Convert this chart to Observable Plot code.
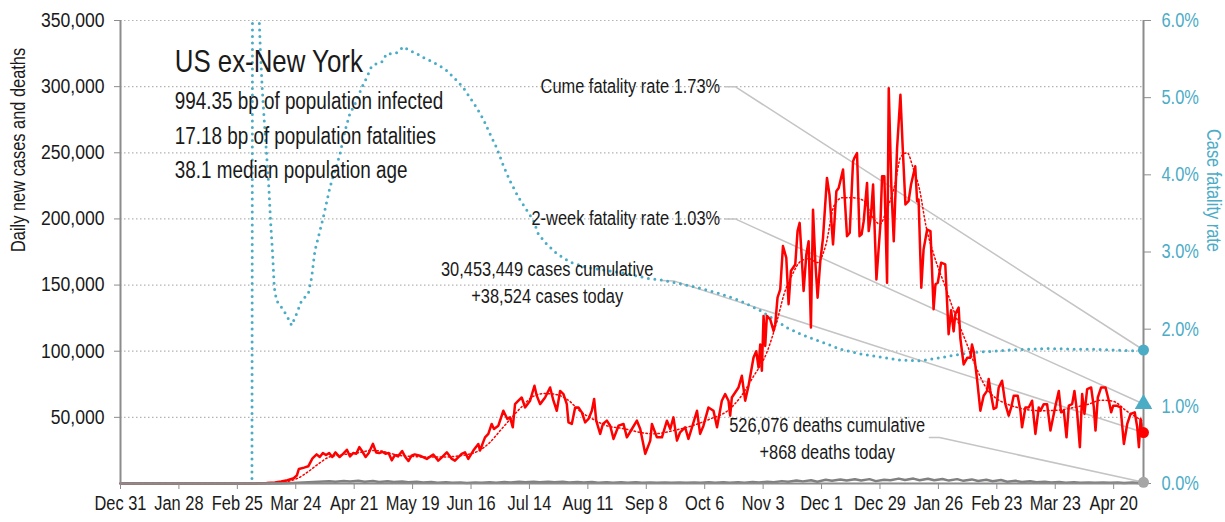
<!DOCTYPE html>
<html><head><meta charset="utf-8">
<script src="https://cdn.jsdelivr.net/npm/d3@7"></script>
<script src="https://cdn.jsdelivr.net/npm/@observablehq/plot@0.6"></script>
<style>
html,body{margin:0;padding:0;background:#fff;}
#chart svg{display:block;}
</style></head><body><div id="chart"></div>
<script>
// ---------- data ----------
const startDate = "2019-12-31";           // day 0 of the series
const xTickDates = ["2019-12-31","2020-01-28","2020-02-25","2020-03-24","2020-04-21","2020-05-19","2020-06-16","2020-07-14","2020-08-11","2020-09-08","2020-10-06","2020-11-03","2020-12-01","2020-12-29","2021-01-26","2021-02-23","2021-03-23","2021-04-20"];
const leftTicks = [50000,100000,150000,200000,250000,300000,350000];
const rightTicks = [0,1,2,3,4,5,6];         // percent

const title = "US ex-New York";
const subtitleLines = ["994.35 bp of population infected","17.18 bp of population fatalities","38.1 median population age"];
const leftAxisTitle = "Daily new cases and deaths";
const rightAxisTitle = "Case fatality rate";

const cumeCFR = 1.73, twoWeekCFR = 1.03;
const casesCumulative = 30453449, casesToday = 38524;
const deathsCumulative = 526076, deathsToday = 868;

// daily new cases (days since start, value)
const caseDays = [0,60,66,70,74,77,80,83,84.5,85.5,88,90,91,92,94,95.5,97,98.5,100,101.5,103,105,107,108.5,110,111.5,113,114.5,116,117.5,119,121,122.5,124,125.5,127,128.5,130,131.5,133,135,136.5,138,139.5,141,143.5,146.8,149.9,152.3,154,156.4,158.8,160.3,163.5,165.1,166.7,169.1,171.5,172.3,174.7,176.3,177.9,179,181.1,183.5,185.4,186.7,188,189.1,190.7,192.3,193.9,196.3,198.4,199.5,201.1,203.5,205.9,207.5,209.1,210.7,212.3,213.9,214.7,216.3,217.9,219.5,221.1,222.7,224.3,225.9,227,228,229.9,231.2,233.1,234.7,236.3,238.7,241.1,242.7,245.1,247.5,249.1,251.5,253.9,254.7,257.1,259.5,261.9,263.5,265,266.7,268.2,270.6,272.2,273.9,276.3,277.8,279.4,281.8,284.2,285.9,288.2,289.8,291.4,292.2,293,296.2,297.8,299.4,301,303.4,304.7,305.8,306.6,307.4,308.2,309,309.8,311.4,313,313.8,314.9,316.2,317.5,319.1,320.2,321.3,323.4,324.5,325.5,326.6,327.4,328.7,329.8,330.9,331.9,333,334.1,335.4,336.7,338.6,339.8,341.5,343.1,344.2,346.3,348.2,349.5,351.1,351.7,353,354.2,355.2,356.2,357.8,358.6,359.7,360.7,362.3,364.2,365,366.1,367.4,368.2,369.5,370.6,372.2,373.8,374.9,376.2,377.7,378.9,380.9,381.8,382.5,383.8,384.9,386.6,388.2,389.7,390.6,391.7,393.3,395.3,396.9,398.1,399.3,400.1,401.7,402.5,404.1,405.8,407.3,408.1,408.9,410.6,412.1,413.7,415.3,416.1,416.9,418.5,419.8,420.9,422.5,424.1,425.7,426.9,428.1,430,431.3,432.1,433.7,435.3,436.9,438.5,440.1,440.9,442.5,444.1,445.7,448.1,449.7,450.8,452.1,453.4,454.5,456.1,457.2,458.5,459.8,460.9,462,463.3,465.2,466.5,467.3,468.4,470,472.1,473.7,474.8,475.8,477.4,479.3,480.9,482.5,484.1,486.1,487.3,488.1,488.9,489.7,490.3];
const cases = [0,0,100,300,800,1500,2500,4000,6000,11000,12000,13000,16000,19000,22000,20000,23000,21500,23000,20000,23500,20000,23000,25500,20500,23000,22500,27500,24000,20000,23000,30000,23500,23000,24000,22500,23000,17500,21500,20500,24500,20000,17000,21000,22000,21000,18600,21900,17300,19800,23600,18600,17300,22400,23600,18600,24900,29900,24900,34900,37500,45000,41200,43700,55000,48800,50000,42500,60000,62600,65000,57500,62600,73900,66400,60000,65000,72600,62600,55000,70000,67600,60000,46200,45000,57500,57500,53800,46200,48800,55000,63900,47500,37500,45000,47500,43700,33700,43700,45000,34900,41200,47500,41200,22400,32400,45000,34900,34900,47500,41200,50000,32400,38700,42500,33700,42500,55000,37500,43700,57500,55000,42500,62600,67600,62600,51300,65000,72600,81400,62600,73900,95200,100000,87700,105000,85200,126700,104000,126700,124000,115400,120400,140500,146800,179500,170600,135500,160600,165600,190800,197000,168000,145500,173200,183200,117900,207000,168000,140500,168000,185700,231000,218400,180700,221000,223400,237300,187000,189500,243500,246000,249800,187000,188300,198300,227200,190800,203300,226000,154300,195800,232200,232200,151800,298800,222200,183200,253600,293800,253600,210900,213400,226000,239800,213400,214700,148000,177000,192000,190800,131700,150600,151800,166900,165600,112900,131000,115000,128000,133000,110000,90000,95000,95000,105000,100000,77700,55000,66400,70000,79000,70000,56300,57500,72600,77700,60000,51300,57500,66400,66400,55000,42500,57500,57500,62600,37500,57500,55000,60000,60000,40000,58800,70000,53800,55000,34900,58800,60000,70000,53800,27400,67600,52600,71400,72600,57500,40000,65000,72600,72600,62600,53800,58800,58800,57500,29900,45000,52600,53800,42500,27400,48800,42500,38524];

// 7-day average of cases (dotted red)
const avgDays = [0,70,75,80,85,90,95,100,105,110,115,120,125,130,135,140,145,150,155,160,165,172,177,182,187,192,198,203,208,215,220,226,233,241,249,255,265,274,283,291,297,303,310,315,318,322,326,330,334,338,342,346,351,356,361,364,367,371,374,377,380,383,386,390,395,400,405,410,415,420,425,431,441,450,457,464,470,476,482,487,490.3];
const casesAvg = [0,0,500,1500,4000,9000,15000,20000,21500,22500,23500,25000,24500,22500,21000,20500,20000,20000,20000,20500,21500,25000,31000,40000,49000,57500,66000,68000,67500,62500,55000,49000,43700,41500,38700,37500,40000,43700,49000,55000,65000,80000,100000,125000,143000,158000,168000,170000,167000,180000,210000,216000,216000,214000,200000,196000,206000,225000,247000,250000,238000,222000,195000,172000,150000,128000,108000,88000,72000,64000,60000,57000,55000,55500,57500,60000,63000,62000,55000,50000,47000];

// daily deaths (grey)
const deathDays = [0,60,75,80,85,90,95,100,103,107,110,114,117,121,124,128,131,135,138,142,145,149,152,156,159,163,166,170,173,177,180,184,187,191,194,198,201,205,208,212,215,219,222,226,229,233,236,240,243,247,250,254,257,261,264,268,271,275,278,282,285,289,292,296,299,303,306,310,313,317,320,324,327,331,334,338,341,345,348,352,355,359,362,366,369,373,376,380,383,387,390,394,397,401,404,408,411,415,418,422,425,429,432,436,439,443,446,450,453,457,460,464,467,471,474,478,481,485,488,490.3];
const deaths = [0,0,50,200,500,900,1400,1700,1300,1900,1500,2000,1300,1900,1200,1700,1100,1500,900,1300,700,1100,600,900,500,800,400,700,500,900,600,1100,800,1300,900,1400,1000,1400,900,1300,800,1200,700,1100,600,1000,500,900,500,900,500,800,500,800,500,800,500,850,550,900,550,950,600,1000,650,1100,800,1400,1000,1800,1300,2200,1600,2500,1300,2800,2000,3100,2200,3200,2300,3300,1800,2900,2500,3700,2600,3700,2400,3600,2400,3400,2200,3300,2000,3100,1900,2800,1700,2600,1300,2000,1200,1700,900,1400,700,1100,600,900,550,850,500,800,500,800,450,750,400,868];

// case fatality rate, percent (teal dotted, right axis); values above 6% run off the top
const cfrDays = [0,63,63.5,65.4,66.5,67.1,67.9,68.9,70,71.1,71.9,72.9,73.7,74.8,77.2,79.6,82,84.4,86.8,90,91.6,93.2,94.8,97.2,100.4,102.8,105.2,107.6,109.9,112.4,115.6,118,120.4,122.8,125.2,127.6,130.7,133.1,135.5,138.8,142,145.1,148.3,153.1,156.4,161.2,164.3,167.5,170.7,173.9,177.1,180.3,183.5,186.7,190.7,197.9,200.3,204.3,209.1,215.5,223.5,233.1,242.7,252.3,258.7,268.3,279.4,287.4,297,306.6,313,319.4,325.8,332.2,338.6,345,354.6,364.2,373.8,383.4,393,399.3,408.9,416.9,424.9,434.5,444.1,456.9,466.5,476.1,484.1,490.3];
const cfr = [0,0,12,12,6.0,5.57,5.13,4.7,4.27,3.84,3.41,2.98,2.54,2.37,2.28,2.18,2.05,2.2,2.37,2.46,2.67,3.02,3.19,3.45,3.84,4.05,4.27,4.57,4.79,4.92,5.13,5.26,5.41,5.44,5.46,5.57,5.57,5.59,5.66,5.61,5.57,5.52,5.48,5.41,5.35,5.22,5.13,5.0,4.87,4.72,4.53,4.35,4.12,3.92,3.71,3.41,3.23,3.1,2.98,2.87,2.8,2.76,2.72,2.66,2.64,2.59,2.52,2.46,2.37,2.24,2.13,2.02,1.94,1.87,1.81,1.74,1.68,1.64,1.6,1.59,1.63,1.66,1.7,1.71,1.73,1.74,1.75,1.74,1.74,1.73,1.72,1.73];

// ---------- build ----------
const DAY = 864e5;
const t0 = Date.parse(startDate);
const toDate = d => new Date(t0 + d * DAY);
const endDay = caseDays[caseDays.length - 1];
const yMax = 350000;
const k = yMax / rightTicks[rightTicks.length - 1];   // 1% on the right axis in left-axis units

const caseRows = caseDays.map((d, i) => ({date: toDate(d), v: cases[i]}));
const avgRows = avgDays.map((d, i) => ({date: toDate(d), v: casesAvg[i]}));
const deathRows = deathDays.map((d, i) => ({date: toDate(d), v: deaths[i]}));
const cfrRows = cfrDays.map((d, i) => ({date: toDate(d), v: cfr[i] * k}));

const fmt = d3.format(",");
const leaders = [
  {id: "cume", pts: [[289.8, 300000], [294.6, 300000], [endDay, cumeCFR * k]]},
  {id: "two", pts: [[289.8, 200000], [294.6, 200000], [endDay, twoWeekCFR * k]]},
  {id: "cases", pts: [[259.1, 153500], [265.5, 153000], [endDay, casesToday]]},
  {id: "deaths", pts: [[387.7, 34700], [392.5, 34700], [endDay, deathsToday]]}
];
const leaderRows = leaders.flatMap(l => l.pts.map(([d, v]) => ({id: l.id, date: toDate(d), v})));

const font = '"Liberation Sans",Arimo,Arial,sans-serif';
const teal = "#4BACC6", axisGrey = "#8c8c8c", ink = "#1a1a1a";

const rateNotes = [
  {date: toDate(287.4), v: 300000, text: `Cume fatality rate ${cumeCFR.toFixed(2)}%`},
  {date: toDate(287.4), v: 200000, text: `2-week fatality rate ${twoWeekCFR.toFixed(2)}%`}
];
const countNotes = [
  {date: toDate(204.5), v: 162000, text: `${fmt(casesCumulative)} cases cumulative`},
  {date: toDate(204.5), v: 141500, text: `+${fmt(casesToday)} cases today`},
  {date: toDate(338.7), v: 43700, text: `${fmt(deathsCumulative)} deaths cumulative`},
  {date: toDate(338.7), v: 23400, text: `+${fmt(deathsToday)} deaths today`}
];
const headRows = [{date: toDate(26), v: 319000, text: title, size: 31.5}]
  .concat(subtitleLines.map((t, i) => ({date: toDate(26), v: [289000, 262500, 236500][i], text: t, size: 23})));

const plot = Plot.plot({
  width: 1225, height: 522,
  marginLeft: 120, marginRight: 82, marginTop: 20, marginBottom: 39,
  style: {fontFamily: font, fontSize: "20px", color: ink, background: "#fff", overflow: "visible"},
  x: {type: "utc", domain: [toDate(0), toDate(endDay)]},
  y: {domain: [0, yMax]},
  marks: [
    Plot.gridY(leftTicks, {stroke: "#b3b3b3", strokeOpacity: 1, strokeWidth: 1.2, strokeDasharray: "1.5,2.5"}),
    Plot.line(leaderRows, {x: "date", y: "v", z: "id", stroke: "#c4c4c4", strokeWidth: 1.5}),
    Plot.line(cfrRows, {x: "date", y: "v", stroke: teal, strokeWidth: 3, strokeDasharray: "0,6.5", strokeLinecap: "round", clip: true}),
    Plot.line(avgRows, {x: "date", y: "v", stroke: "#ff0000", strokeWidth: 1.5, strokeDasharray: "1.5,2.5", curve: "monotone-x"}),
    Plot.line(caseRows, {x: "date", y: "v", stroke: "#ff0000", strokeWidth: 2.5, strokeLinejoin: "round"}),
    Plot.line(deathRows, {x: "date", y: "v", stroke: "#808080", strokeWidth: 2.5, strokeLinejoin: "round"}),
    Plot.ruleY([0], {stroke: axisGrey, strokeWidth: 2}),
    Plot.ruleX([toDate(0), toDate(endDay)], {stroke: axisGrey, strokeWidth: 2}),
    Plot.axisX(xTickDates.map(s => new Date(s)), {tickSize: 6, tickPadding: 6, tickFormat: d3.utcFormat("%b %-d"), stroke: axisGrey, fill: ink, label: null, fontSize: 20}),
    Plot.axisY(leftTicks, {anchor: "left", tickSize: 6, tickPadding: 10, tickFormat: fmt, stroke: axisGrey, fill: ink, fontSize: 20, label: null}),
    Plot.axisY(rightTicks.map(p => p * k), {anchor: "right", tickSize: 7, tickPadding: 11, tickFormat: v => (v / k).toFixed(1) + "%", stroke: axisGrey, fill: teal, fontSize: 20, label: null}),
    Plot.text([leftAxisTitle], {frameAnchor: "left", dx: -102, rotate: -90, fill: ink, fontSize: 20}),
    Plot.text([rightAxisTitle], {frameAnchor: "right", dx: 70, rotate: 90, fill: teal, fontSize: 20}),
    Plot.dot([{date: toDate(endDay), v: cumeCFR * k}], {x: "date", y: "v", r: 5.5, fill: teal}),
    Plot.dot([{date: toDate(endDay), v: twoWeekCFR * k}], {x: "date", y: "v", r: 6.5, symbol: "triangle", fill: teal}),
    Plot.dot([{date: toDate(endDay), v: casesToday}], {x: "date", y: "v", r: 5.5, fill: "#ff0000"}),
    Plot.dot([{date: toDate(endDay), v: deathsToday}], {x: "date", y: "v", r: 5.5, fill: "#a6a6a6"}),
    Plot.text(rateNotes, {x: "date", y: "v", text: "text", textAnchor: "end", fill: ink, fontSize: 20}),
    Plot.text(countNotes, {x: "date", y: "v", text: "text", textAnchor: "middle", fill: ink, fontSize: 20}),
    Plot.text(headRows, {x: "date", y: "v", text: "text", textAnchor: "start", fontSize: d => d.size, fill: ink})
  ]
});
document.getElementById("chart").append(plot);

// the reference uses a condensed face: narrow every text horizontally
plot.querySelectorAll("text").forEach(t => {
  const w = t.getComputedTextLength();
  if (!w) return;
  const f = /^\d{2,3},000$/.test(t.textContent) ? 0.88 : 0.82;
  t.setAttribute("textLength", (w * f).toFixed(1));
  t.setAttribute("lengthAdjust", "spacingAndGlyphs");
});
</script>
</body></html>
